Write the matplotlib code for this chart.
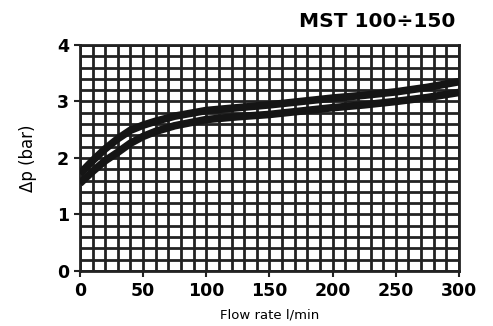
import matplotlib
matplotlib.use("Agg")
import matplotlib.pyplot as plt
import numpy as np

flow = [0, 10, 20, 30, 40, 50, 60, 75, 100, 125, 150, 175, 200, 225, 250, 275, 300]
dp_upper = [1.72, 1.95, 2.16, 2.34, 2.49, 2.58, 2.65, 2.74, 2.84, 2.89, 2.94, 3.00, 3.06, 3.11, 3.17, 3.25, 3.35]
dp_lower = [1.55, 1.76, 1.95, 2.10, 2.26, 2.38, 2.47, 2.57, 2.68, 2.73, 2.77, 2.83, 2.89, 2.94, 3.00, 3.07, 3.16]
xticks = [0, 50, 100, 150, 200, 250, 300]
yticks = [0, 1, 2, 3, 4]

fig = plt.figure(figsize=(4.93, 3.26), dpi=100)
ax = fig.add_axes([0.162, 0.169, 0.769, 0.693])
ax.set_xlim(0, 300)
ax.set_ylim(0, 4)

for xv in np.arange(0, 301, 10):
    ax.axvline(xv, color="#222222", lw=2.0, zorder=1)
for yv in np.arange(0, 4.01, 0.2):
    ax.axhline(yv, color="#222222", lw=2.0, zorder=1)

ax.plot(flow, dp_upper, color="#151515", lw=5.5, zorder=3, solid_capstyle="butt", solid_joinstyle="round")
ax.plot(flow, dp_lower, color="#151515", lw=5.5, zorder=3, solid_capstyle="butt", solid_joinstyle="round")

for s in ax.spines.values():
    s.set_linewidth(2.0)
    s.set_color("#222222")

ax.set_xticks(xticks)
ax.set_yticks(yticks)
ax.set_xticklabels([str(v) for v in xticks], fontweight="bold", fontsize=12.5)
ax.set_yticklabels([str(v) for v in yticks], fontweight="bold", fontsize=12.5)
ax.tick_params(direction="out", length=4, width=1.5, color="#222222", pad=4)

ax.set_xlabel("Flow rate l/min", fontsize=9.5, labelpad=6)
ax.set_ylabel("Δp (bar)", fontsize=12, labelpad=14)
fig.text(0.924, 0.905, "MST 100÷150", ha="right", va="bottom", fontsize=14.5, fontweight="bold")

fig.savefig("out.png", dpi=100)
